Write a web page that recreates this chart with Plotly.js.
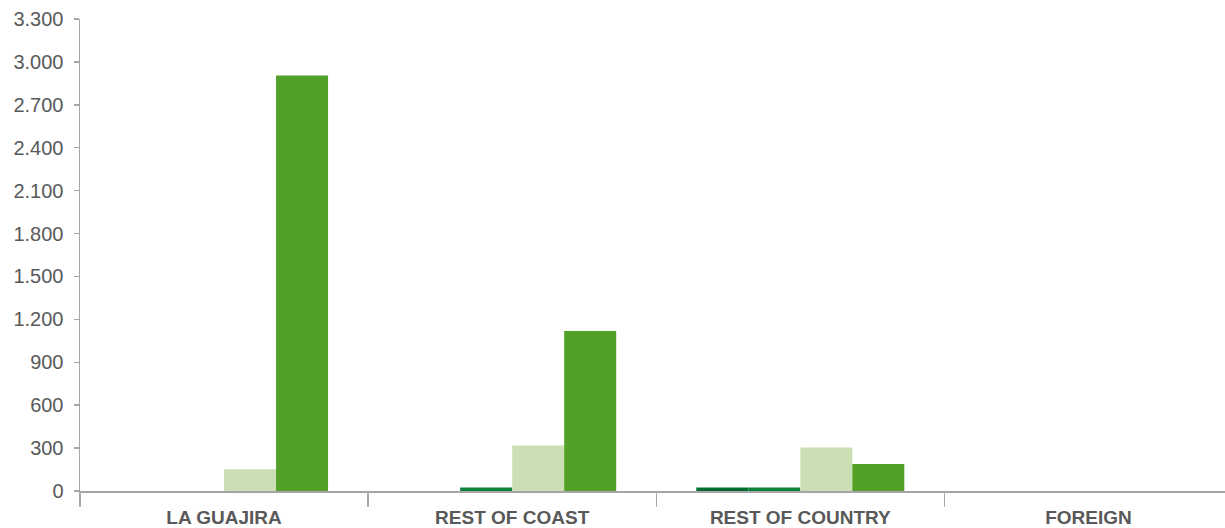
<!DOCTYPE html>
<html>
<head>
<meta charset="utf-8">
<script src="https://cdn.plot.ly/plotly-3.0.1.min.js"></script>
<style>
  html, body { margin: 0; padding: 0; background: #ffffff; }
  #chart { width: 1225px; height: 528px; }
</style>
</head>
<body>
<div id="chart"></div>
<script>
// Regions of origin
const categories = ["LA GUAJIRA", "REST OF COAST", "REST OF COUNTRY", "FOREIGN"];

// Four series per region
const series1 = [0, 0, 25, 0];
const series2 = [0, 25, 25, 0];
const series3 = [152, 318, 304, 0];
const series4 = [2905, 1119, 189, 0];

const seriesNames = ["Series 1", "Series 2", "Series 3", "Series 4"];
const seriesColors = ["#006b2c", "#0c8038", "#cae0b4", "#52a028"];
const seriesValues = [series1, series2, series3, series4];

const traces = seriesValues.map((vals, i) => ({
  type: "bar",
  x: categories,
  y: vals,
  name: seriesNames[i],
  marker: { color: seriesColors[i], line: { width: 0 } },
  hoverinfo: "x+y"
}));

const axisGrey = "#a6a6a6";
const textGrey = "#595959";

const layout = {
  width: 1225,
  height: 528,
  margin: { l: 80, r: 0, t: 19, b: 37 },
  paper_bgcolor: "#ffffff",
  plot_bgcolor: "#ffffff",
  showlegend: false,
  barmode: "group",
  bargap: 0.278,
  bargroupgap: 0,
  separators: ",.",
  font: { family: "Liberation Sans, Arial, Helvetica, sans-serif", color: textGrey },
  xaxis: {
    type: "category",
    range: [-0.5, 3.474],
    showgrid: false,
    zeroline: false,
    showline: true,
    linecolor: axisGrey,
    linewidth: 1.5,
    ticks: "outside",
    tickson: "boundaries",
    ticklen: 14,
    tickwidth: 1.5,
    tickcolor: axisGrey,
    ticklabelstandoff: 9,
    tickfont: { size: 19, color: textGrey, weight: "bold" }
  },
  yaxis: {
    range: [0, 3300],
    dtick: 300,
    tick0: 0,
    tickformat: ",d",
    showgrid: false,
    zeroline: false,
    showline: true,
    linecolor: axisGrey,
    linewidth: 1.5,
    ticks: "outside",
    ticklen: 5,
    tickwidth: 1.5,
    tickcolor: axisGrey,
    ticklabelstandoff: 6,
    tickfont: { size: 20, color: textGrey }
  }
};

Plotly.newPlot("chart", traces, layout, { displayModeBar: false, staticPlot: true });
</script>
</body>
</html>
